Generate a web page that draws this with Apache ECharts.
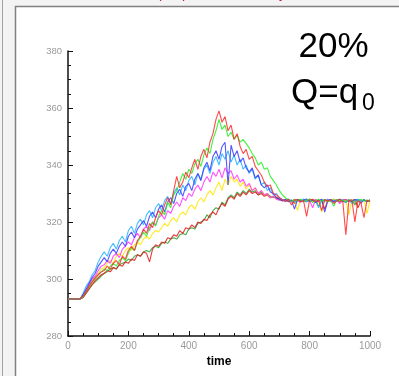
<!DOCTYPE html>
<html>
<head>
<meta charset="utf-8">
<script src="https://cdn.jsdelivr.net/npm/echarts@6/dist/echarts.min.js"></script>
<style>
html,body{margin:0;padding:0;background:#fff;}
#c{width:399px;height:376px;}
</style>
</head>
<body>
<div id="c"></div>
<script>
var time = [0,10,20,30,40,50,60,70,80,90,100,110,120,130,140,150,160,170,180,190,200,210,220,230,240,250,260,270,280,290,300,310,320,330,340,350,360,370,380,390,400,410,420,430,440,450,460,470,480,490,500,510,520,530,540,550,560,570,580,590,600,610,620,630,640,650,660,670,680,690,700,710,720,730,740,750,760,770,780,790,800,810,820,830,840,850,860,870,880,890,900,910,920,930,940,950,960,970,980,990,1000];

var cyanRun = [293,293,293,293,293,295,297.5,299,301.5,303,306,308,309.5,308,311,312.5,310.5,313.5,315,313,317,318.5,316,319.5,321,319,322.5,324,321.5,325,326.5,324,327.5,329,326.5,330,332,329.5,333,331,334.5,336,333,337,335,338.5,340,337,341,343,340,344,342,345,341,343.5,340,342,338.5,340,337,338.5,335,336.5,333,334,331,332,329.5,330,328.5,327.8,327.2,328,327.5,326.9,327.9,327.4,328.1,327,327.6,327.9,327.3,325,327.8,327.4,328,327.1,327.7,327.3,327.9,327.5,327,327.8,326.5,327.6,328,327.3,327.7,327.2,327.6];

var blueRun = [293,293,293,293,293,294.5,296.5,298.5,300.5,302,304.5,306,307.5,306,309,310.5,309,311.5,313,311.5,315,316.5,314.5,317.5,319,320.5,318.5,322,323.5,321.5,324.5,326,323.5,327,328.5,326.5,330,331.5,329,332.5,333.5,331,335,337,334.5,339,341,338,343,345,342,346.5,348,333,347,343,345,341,342.5,339,337.5,339,335.5,336.5,333,332,333,330.5,330,328.5,328,327.4,328,327.1,327.7,324.5,327.9,327.3,327.6,328.1,327.2,327.8,326.8,327.5,328,323.5,327.4,327.9,327.1,327.6,328,327.3,326.9,327.7,327.2,327.9,327.5,326.6,327.8,327.3,327.6];

var redRun = [293,293,293,293,293,294,295.5,297.5,299,300.5,301.5,302.5,303,304.5,303.5,305.5,306.5,305,308,307,310,311.5,310,313.5,315,317.5,316,319.5,318,321.5,324,322.5,326,328.5,326,331,336,332,334,337.5,335.5,339,342,338.5,343,345.5,342.5,348,351,356,359,355,357,352,354,349,351,346.5,344,345.5,342,343,339.5,338,336.5,334,332.5,333,330,329.5,328.5,327.8,327.2,328,326,327.6,327.9,327.1,327.5,322,327.7,328,327.2,327.6,324,327.9,327.3,327.7,326.5,327.4,328,327.1,315.5,327.5,327.8,320,327.4,326.8,321.5,327.6,327.2];

var greenRun = [293,293,293,293,293,294,295.5,297,299,300,301.5,302.5,303.5,303,304.5,305.5,304.5,306.5,307.5,306.5,309,311,310,313,314.5,316.5,315,318,320,318.5,322,324,322.5,327,325,329.5,331,334,337,335,338.5,337,340.5,342,339.5,343.5,346,344,349,352,356,352.5,354,350,351.5,349,350.5,348,349,347.5,346,344,342.5,340,341,338.5,339,336,334.5,333,331,329.5,328.5,327.7,327.2,327.9,327.4,328,327.1,327.6,327.9,326.8,327.5,328,327.3,327.8,327.1,327.6,325.5,327.9,327.4,327.7,327,327.8,327.5,326.9,327.6,328,327.3,327.7,327.4];

var magentaRun = [293,293,293,293,293,294.5,296,298,300,301,303,304.5,305,306.5,305.5,308,309,307.5,310.5,311.5,313,312,314.5,316,314.5,317.5,318.5,317,320,319,321.5,322.5,321,324,323,325.5,327,325.5,328.5,327.5,330,329,331.5,333,331,334,336,334,337.5,336,338.5,335.5,339,337,338,335,336.5,334,335,332.5,333.5,331,332,330,331,329.5,330,328.5,329,328,327.6,327.9,327.3,327.7,327.1,328,327.5,326.9,327.8,327.3,327.6,325,327.9,327.4,327.7,327.2,328,327.5,327.1,327.8,326.4,327.6,327.9,327.3,327.5,327,327.8,327.4,327.7,327.2,327.6];

var yellowRun = [293,293,293,293,293,294,296,297.5,299.5,300.5,302,303.5,304,305.5,306.5,305.5,308,309,308,310,311,310,312,313,312,314,315,314,316,317,316.5,318,319.5,318.5,320.5,321.5,320,322.5,323.5,322.5,325,326,324.5,327,328.5,327,329.5,331,329.5,332,334,331,335,333,336,334,335,332.5,334,331.5,333,331,332,330,331,329.5,330,328.5,329,328,327.8,327.4,327.9,327.2,327.7,327.5,324,327.8,327.3,327.6,328,327.1,327.7,327.4,323.5,327.9,327.2,327.6,328,327.3,327.7,327,327.5,322.5,327.8,327.4,327.6,327.1,327.9,323,327.5];

var darkGreenRun = [293,293,293,293,293,293.5,295,296.5,298,299,300,301,302,302.5,303.5,304,303.5,305,305.5,306,307,306.5,308,308.5,308,309.5,310,309.5,311,311.5,311,312.5,313,312.5,314,314.5,314,315.5,316,315.5,317.5,318,317.5,319.5,320,320.5,322.5,321.5,324,325,324.5,327,326,328.5,329.5,328.5,330.5,329.5,331,330,331.5,330.5,331,329.5,330.5,329.5,330,329,328.5,328.7,328.2,327.8,327.4,328,327.2,327.7,327.5,327.9,327.1,327.6,328.1,327.3,327.8,325.5,327.4,327.9,327.2,327.6,328,327.5,327.1,327.7,327.9,327.3,327.6,326,327.8,327.4,327.7,327.2,327.8];

var darkRedRun = [293,293,293,293,293,293.5,295,296.5,298,299.5,300.5,301.5,302,303,302.5,304,303.5,305,304.5,306,305.5,307,306.5,308.5,308,309.5,309,306,310.5,312,311.5,313,312.5,314.5,314,315.5,315,317,316,318,317.5,319,318,320,319.5,321,320.5,322.5,323.5,322.5,325,326.5,325.5,328,329,328,330,329,330.5,329.5,331,330,330.5,329.5,330,329,329.5,328.5,329,328.4,328,327.5,327.9,327.2,327.6,326.5,327.8,327.3,327.7,327.1,327.9,327.4,327.6,327.2,327.8,324.5,327.5,327.9,327.3,327.7,327,327.6,327.8,327.2,327.5,327.9,325,327.4,327.7,327.3,327.6];

var xTicks = [0,200,400,600,800,1000];
var yTicks = [280,300,320,340,360,380];

var runs = [
  {data: darkGreenRun, color: '#2e9e2e'},
  {data: darkRedRun, color: '#e01818'},
  {data: yellowRun, color: '#ffe600'},
  {data: magentaRun, color: '#ff33ff'},
  {data: cyanRun, color: '#22b4ff'},
  {data: blueRun, color: '#3a3aff'},
  {data: greenRun, color: '#22ee22'},
  {data: redRun, color: '#ff2a2a'}
];

var series = runs.map(function (r) {
  return {
    type: 'line',
    showSymbol: false,
    symbol: 'none',
    data: time.map(function (t, i) { return [t, r.data[i]]; }),
    lineStyle: {width: 1.1, color: r.color, opacity: 0.85},
    itemStyle: {color: r.color},
    z: 2
  };
});

var FONT = 'Liberation Sans, Arial, sans-serif';

var chart = echarts.init(document.getElementById('c'), null, {renderer: 'canvas'});
chart.setOption({
  animation: false,
  backgroundColor: '#ffffff',
  grid: {left: 68, right: 29, top: 51, bottom: 40, containLabel: false},
  xAxis: {
    type: 'value', min: xTicks[0], max: xTicks[xTicks.length - 1], interval: 200,
    name: 'time', nameLocation: 'middle', nameGap: 18,
    nameTextStyle: {color: '#000', fontWeight: 'bold', fontSize: 12, fontFamily: FONT},
    axisLine: {show: true, onZero: false, lineStyle: {color: '#111', width: 1.5}},
    axisTick: {show: true, inside: true, length: 5, lineStyle: {color: '#111', width: 1}},
    minorTick: {show: true, splitNumber: 4, length: 3, lineStyle: {color: '#111', width: 1}},
    splitLine: {show: false},
    axisLabel: {color: '#9a9a9a', fontSize: 10, margin: 5, fontFamily: FONT,
      formatter: function (v) { return String(v); }}
  },
  yAxis: {
    type: 'value', min: yTicks[0], max: yTicks[yTicks.length - 1], interval: 20,
    axisLine: {show: true, onZero: false, lineStyle: {color: '#111', width: 1.5}},
    axisTick: {show: true, inside: true, length: 5, lineStyle: {color: '#111', width: 1}},
    minorTick: {show: true, splitNumber: 4, length: 3, lineStyle: {color: '#111', width: 1}},
    splitLine: {show: false},
    axisLabel: {color: '#9a9a9a', fontSize: 9.5, margin: 6, fontFamily: FONT,
      formatter: function (v) { return String(v); }}
  },
  graphic: [
    {type: 'rect', shape: {x: 0, y: 0, width: 399, height: 6}, style: {fill: '#f3f3f3'}, z: 0, silent: true},
    {type: 'rect', shape: {x: 0, y: 0, width: 15, height: 376}, style: {fill: '#f3f3f3'}, z: 0, silent: true},
    {type: 'line', shape: {x1: 15, y1: 6.5, x2: 399, y2: 6.5}, style: {stroke: '#808080', lineWidth: 1.5}, z: 1, silent: true},
    {type: 'line', shape: {x1: 15.5, y1: 6, x2: 15.5, y2: 376}, style: {stroke: '#808080', lineWidth: 1.5}, z: 1, silent: true},
    {type: 'line', shape: {x1: 2.5, y1: 0, x2: 2.5, y2: 376}, style: {stroke: '#a0a0a0', lineWidth: 1}, z: 1, silent: true},
    {type: 'text', x: 159, y: -6, style: {text: 'p', fill: '#c41e4a', font: '14px ' + FONT, verticalAlign: 'middle'}, z: 1, silent: true},
    {type: 'text', x: 182, y: -6, style: {text: 'p', fill: '#c41e4a', font: '14px ' + FONT, verticalAlign: 'middle'}, z: 1, silent: true},
    {type: 'text', x: 279, y: -6, style: {text: 'y', fill: '#c41e4a', font: '14px ' + FONT, verticalAlign: 'middle'}, z: 1, silent: true},
    {type: 'text', x: 333.5, y: 47.5, style: {text: '20%', fill: '#000', font: '35px ' + FONT, align: 'center', verticalAlign: 'middle'}, z: 5},
    {type: 'text', x: 291, y: 93, style: {text: 'Q=q', fill: '#000', font: '35px ' + FONT, align: 'left', verticalAlign: 'middle'}, z: 5},
    {type: 'text', x: 362, y: 104, style: {text: '0', fill: '#000', font: '23px ' + FONT, align: 'left', verticalAlign: 'middle'}, z: 5}
  ],
  series: series
});
</script>
</body>
</html>
